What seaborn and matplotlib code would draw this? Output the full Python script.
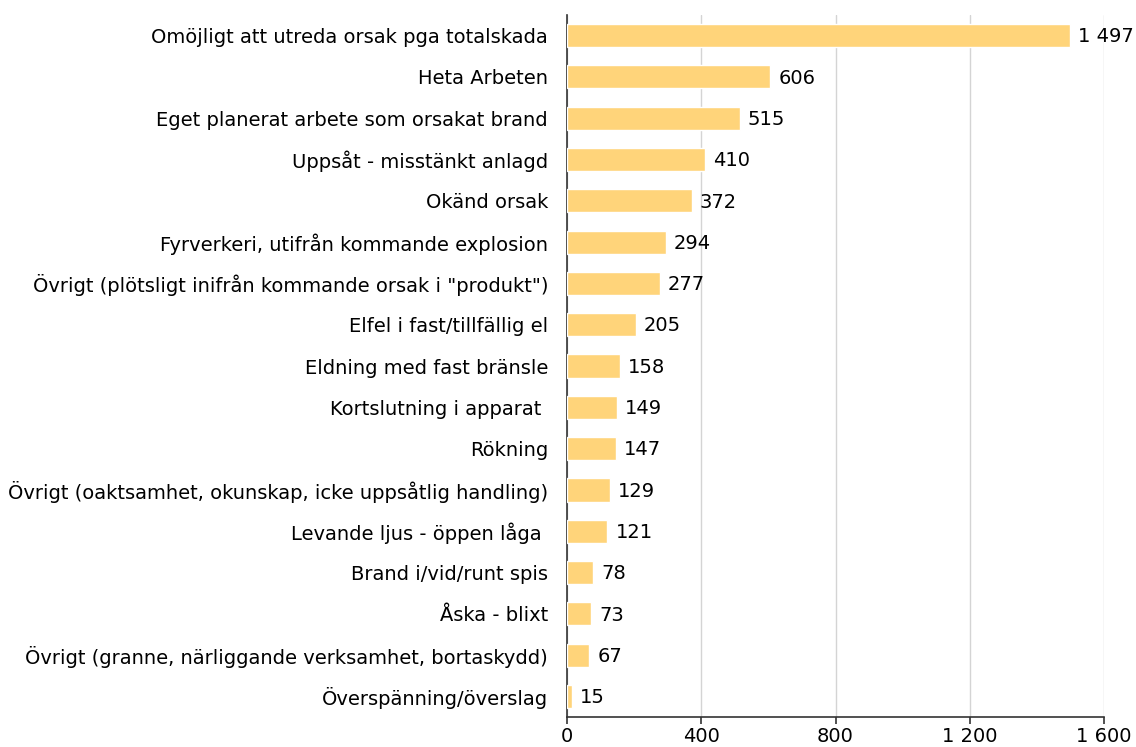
import matplotlib
matplotlib.use("Agg")
import matplotlib.pyplot as plt
import seaborn as sns
import pandas as pd

# Data
categories = [
    "Omöjligt att utreda orsak pga totalskada",
    "Heta Arbeten",
    "Eget planerat arbete som orsakat brand",
    "Uppsåt - misstänkt anlagd",
    "Okänd orsak",
    "Fyrverkeri, utifrån kommande explosion",
    "Övrigt (plötsligt inifrån kommande orsak i \"produkt\")",
    "Elfel i fast/tillfällig el",
    "Eldning med fast bränsle",
    "Kortslutning i apparat ",
    "Rökning",
    "Övrigt (oaktsamhet, okunskap, icke uppsåtlig handling)",
    "Levande ljus - öppen låga ",
    "Brand i/vid/runt spis",
    "Åska - blixt",
    "Övrigt (granne, närliggande verksamhet, bortaskydd)",
    "Överspänning/överslag",
]
values = [1497, 606, 515, 410, 372, 294, 277, 205, 158, 149, 147, 129, 121, 78, 73, 67, 15]
x_ticks = [0, 400, 800, 1200, 1600]

df = pd.DataFrame({"orsak": categories, "antal": values})


def fmt(v):
    return f"{v:,}".replace(",", " ")


sns.set_style("white")
plt.rcParams["font.family"] = ["DejaVu Sans"]
fs = 14

fig, ax = plt.subplots(figsize=(11.36, 7.47), dpi=100)
fig.subplots_adjust(left=0.499, right=0.972, top=0.980, bottom=0.040)

sns.barplot(data=df, x="antal", y="orsak", color="#FFD47A", width=0.56,
            saturation=1, ax=ax, zorder=3)

for i, v in enumerate(values):
    ax.text(v + 24, i + 0.03, fmt(v), va="center", ha="left", fontsize=fs, color="black")

ax.set_xlim(0, 1600)
ax.set_ylim(len(values) - 0.5, -0.5)
ax.set_xticks(x_ticks)
ax.set_xticklabels([fmt(t) for t in x_ticks])
ax.tick_params(axis="y", labelsize=fs, labelcolor="black", length=0, pad=13.5)
ax.tick_params(axis="x", labelsize=fs, labelcolor="black", bottom=True,
               length=5, width=1.2, color="#333333", direction="out", pad=2)
ax.xaxis.grid(True, color="#D4D4D4", linewidth=1, zorder=0)
ax.set_xlabel("")
ax.set_ylabel("")

for s in ["top", "right"]:
    ax.spines[s].set_visible(False)
ax.spines["left"].set_color("#333333")
ax.spines["bottom"].set_color("#333333")
ax.spines["left"].set_linewidth(1.2)
ax.spines["bottom"].set_linewidth(1.2)

fig.savefig("out.png", dpi=100)
